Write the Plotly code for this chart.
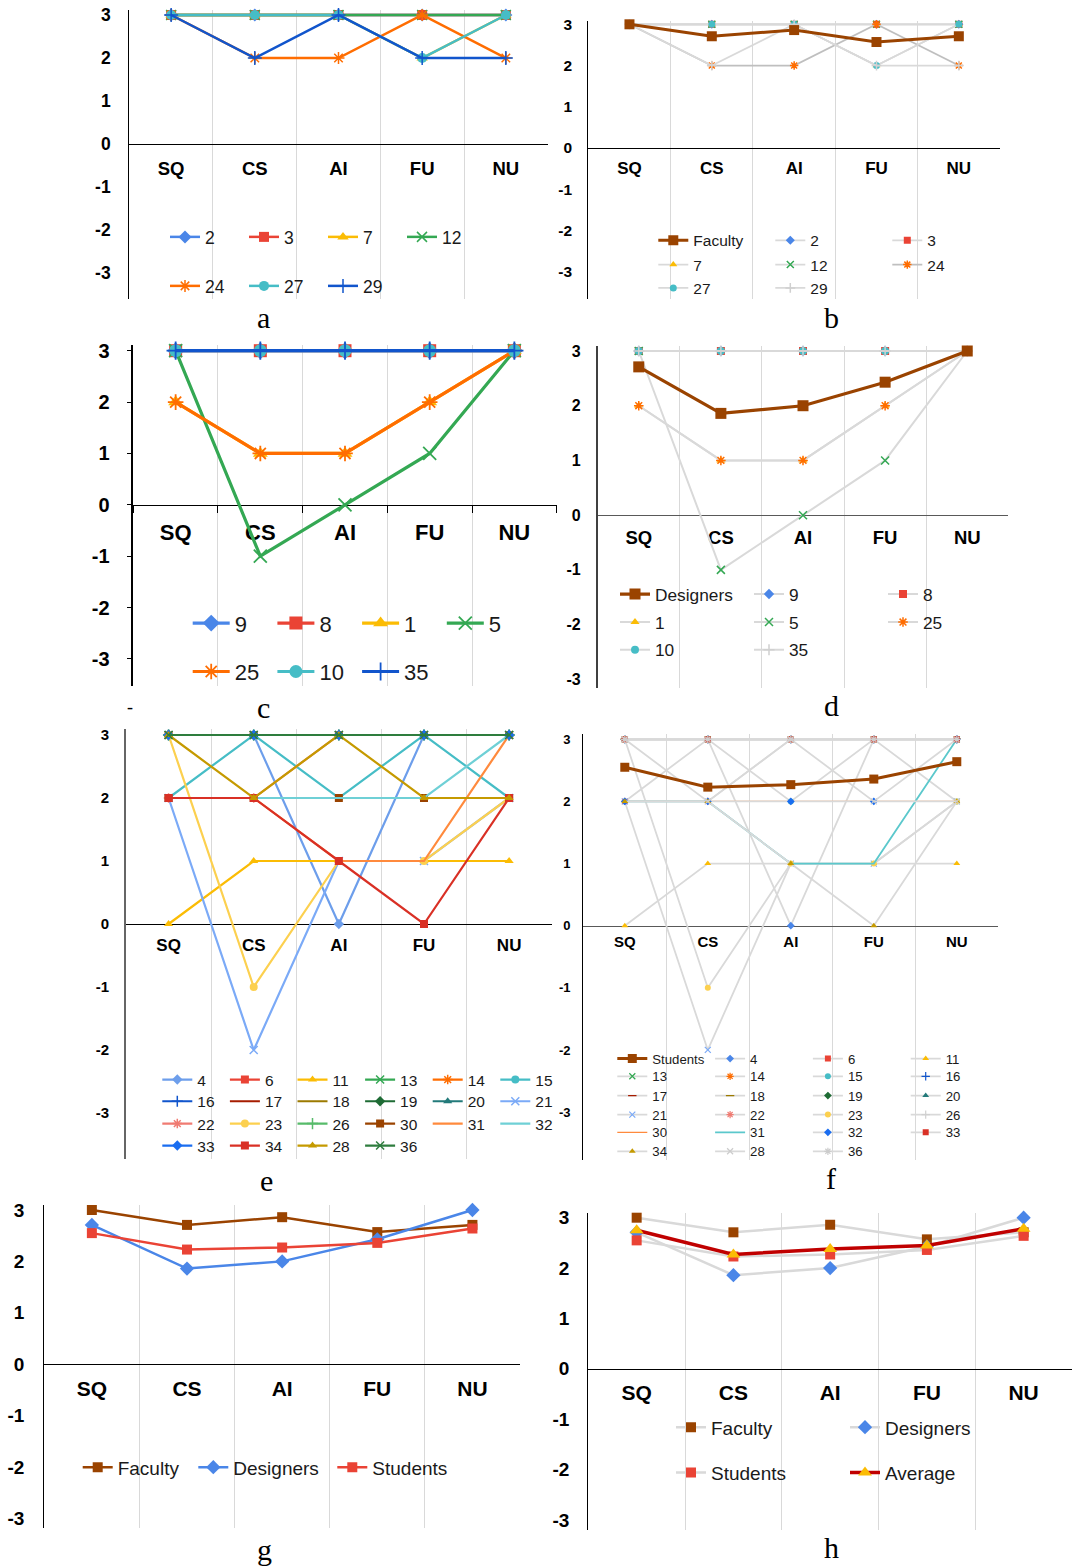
import plotly.graph_objects as go

W, H = 1078, 1568
OFF = 0                      # page body margin removed by post_script
FW, FH = W - OFF, H - OFF
SANS = "Liberation Sans, Arial, sans-serif"
SERIF = "Liberation Serif, Times New Roman, serif"

# ---------------- data ----------------
categories = ["SQ", "CS", "AI", "FU", "NU"]
y_ticks = [-3, -2, -1, 0, 1, 2, 3]

faculty_ids = ["2", "3", "7", "12", "24", "27", "29"]
faculty_scores = [
    [3, 3, 3, 3, 3],
    [3, 3, 3, 3, 3],
    [3, 3, 3, 2, 3],
    [3, 3, 3, 3, 3],
    [3, 2, 2, 3, 2],
    [3, 3, 3, 2, 3],
    [3, 2, 3, 2, 2],
]

designer_ids = ["9", "8", "1", "5", "25", "10", "35"]
designer_scores = [
    [3, 3, 3, 3, 3],
    [3, 3, 3, 3, 3],
    [2, 1, 1, 2, 3],
    [3, -1, 0, 1, 3],
    [2, 1, 1, 2, 3],
    [3, 3, 3, 3, 3],
    [3, 3, 3, 3, 3],
]

student_ids = ["4", "6", "11", "13", "14", "15", "16", "17", "18", "19", "20",
               "21", "22", "23", "26", "30", "31", "32", "33", "34", "28", "36"]
student_scores = [
    [3, 3, 0, 3, 3],
    [3, 3, 3, 3, 3],
    [0, 1, 1, 1, 1],
    [3, 3, 3, 3, 3],
    [3, 3, 3, 3, 3],
    [2, 3, 2, 3, 2],
    [3, 3, 3, 3, 3],
    [3, 3, 3, 3, 3],
    [3, 3, 3, 3, 3],
    [3, 3, 3, 3, 3],
    [3, 3, 3, 3, 3],
    [2, -2, 1, 1, 2],
    [2, 2, 3, 3, 3],
    [3, -1, 1, 1, 2],
    [3, 3, 3, 3, 3],
    [2, 2, 2, 2, 2],
    [2, 2, 1, 1, 3],
    [2, 2, 2, 2, 3],
    [3, 3, 3, 3, 3],
    [2, 2, 1, 0, 2],
    [3, 2, 3, 2, 2],
    [3, 3, 3, 3, 3],
]

faculty_mean = [3.00, 2.71, 2.86, 2.57, 2.71]
designer_mean = [2.71, 1.86, 2.00, 2.43, 3.00]
student_mean = [2.55, 2.23, 2.27, 2.36, 2.64]
overall_mean = [2.75, 2.27, 2.38, 2.45, 2.78]

group_names = ["Faculty", "Designers", "Students", "Average"]

# ---------------- styles ----------------
SYMBOLS = {
    "dia": ("diamond", False), "sq": ("square", False), "tri": ("triangle-up", False),
    "x": ("x-thin-open", True), "ast": ("asterisk-open", True), "cir": ("circle", False),
    "plus": ("cross-thin-open", True), "dash": ("line-ew-open", True),
}
GREY = "#d9d9d9"
BROWN = "#9a4300"

style_ac = [("#4a86e8", "dia"), ("#ea4335", "sq"), ("#fbbc04", "tri"), ("#34a853", "x"),
            ("#ff6d01", "ast"), ("#46bdc6", "cir"), ("#1155cc", "plus")]
style_bd = [("#4a86e8", "dia"), ("#ea4335", "sq"), ("#fbbc04", "tri"), ("#34a853", "x"),
            ("#ff6d01", "ast"), ("#46bdc6", "cir"), ("#d0d0d0", "plus")]
style_e = {
    "4": ("#6d9eeb", "dia"), "6": ("#ea4335", "sq"), "11": ("#fbbc04", "tri"), "13": ("#34a853", "x"),
    "14": ("#ff6d01", "ast"), "15": ("#46bdc6", "cir"), "16": ("#1155cc", "plus"), "17": ("#a61c00", None),
    "18": ("#9c7a00", None), "19": ("#1e6b34", "dia"), "20": ("#237a7a", "tri"), "21": ("#7baaf7", "x"),
    "22": ("#f07b72", "ast"), "23": ("#fcd04f", "cir"), "26": ("#57bb6a", "plus"), "30": ("#9a4300", "sq"),
    "31": ("#ff8a3d", None), "32": ("#6fd0d6", None), "33": ("#1a6df0", "dia"), "34": ("#d93025", "sq"),
    "28": ("#c59a00", "tri"), "36": ("#2e7d3e", "x"),
}
style_f = {
    "4": (GREY, "#4a86e8", "dia"), "6": (GREY, "#ea4335", "sq"), "11": (GREY, "#fbbc04", "tri"),
    "13": (GREY, "#34a853", "x"), "14": (GREY, "#ff6d01", "ast"), "15": (GREY, "#46bdc6", "cir"),
    "16": (GREY, "#1155cc", "plus"), "17": (GREY, "#a61c00", "dash"), "18": (GREY, "#9c7a00", "dash"),
    "19": (GREY, "#1e6b34", "dia"), "20": (GREY, "#237a7a", "tri"), "21": (GREY, "#7baaf7", "x"),
    "22": (GREY, "#f07b72", "ast"), "23": (GREY, "#fcd04f", "cir"), "26": (GREY, "#d0d0d0", "plus"),
    "30": ("#ff8a3d", None, None), "31": ("#5bc8cc", None, None), "32": (GREY, "#1a6df0", "dia"),
    "33": (GREY, "#d93025", "sq"), "34": (GREY, "#c59a00", "tri"), "28": (GREY, "#cccccc", "x"),
    "36": (GREY, "#cccccc", "ast"),
}

# panel geometry in page pixels: plot box, pixel of value 3, pixels per unit
geo = {
    "a": dict(l=129.3, r=547.7, t=10, b=299, p3=15.0, u=43.05, yf=17.5, cf=18.5, ys=14, xs=7,
              ac="#000", aw=1.3, zc="#000", ticks=False),
    "b": dict(l=588.3, r=1000, t=20.7, b=299, p3=24.3, u=41.23, yf=15.5, cf=17, ys=12, xs=4,
              ac="#000", aw=1.3, zc="#000", ticks=False),
    "c": dict(l=133.3, r=556.7, t=345, b=686, p3=350.7, u=51.38, yf=20, cf=22, ys=13, xs=8,
              ac="#000", aw=1.5, zc="#000", ticks=True),
    "d": dict(l=597.7, r=1008.3, t=346, b=688.3, p3=351, u=54.72, yf=16, cf=18.5, ys=12, xs=5,
              ac="#404040", aw=1.5, zc="#595959", ticks=False),
    "e": dict(l=126, r=551.7, t=729, b=1159.3, p3=735, u=63, yf=15, cf=17, ys=12, xs=5,
              ac="#666666", aw=2, zc="#000", ticks=False),
    "f": dict(l=583.3, r=998.3, t=734, b=1160, p3=739.3, u=62.13, yf=13, cf=15, ys=9, xs=2,
              ac="#000", aw=1.3, zc="#595959", ticks=False),
    "g": dict(l=44.3, r=520, t=1205, b=1528.3, p3=1210, u=51.38, yf=19, cf=21, ys=15, xs=6,
              ac="#000", aw=1.3, zc="#000", ticks=False),
    "h": dict(l=588.3, r=1072, t=1213.3, b=1530, p3=1217.7, u=50.38, yf=19, cf=21, ys=14, xs=5,
              ac="#000", aw=1.3, zc="#000", ticks=False),
}


def px_x(px):
    return (px - OFF) / FW


def px_y(py):
    return 1 - (py - OFF) / FH


fig = go.Figure()
layout = {}
axis_suffix = {}

for i, key in enumerate("abcdefgh"):
    g = geo[key]
    n = "" if i == 0 else str(i + 1)
    axis_suffix[key] = n
    ymin = 3 - (g["b"] - g["p3"]) / g["u"]
    ymax = 3 + (g["p3"] - g["t"]) / g["u"]
    y0, y1 = px_y(g["b"]), px_y(g["t"])
    zero = y0 + (0 - ymin) / (ymax - ymin) * (y1 - y0)
    layout["xaxis" + n] = dict(
        domain=[px_x(g["l"]), px_x(g["r"])], anchor="free", position=zero,
        type="category", categoryorder="array", categoryarray=categories,
        range=[-0.5, 4.5], tickson="boundaries", showgrid=True, gridcolor="#d9d9d9",
        gridwidth=1, showline=True, linecolor=g["zc"], linewidth=1.3, zeroline=False,
        ticks="outside" if g["ticks"] else "", ticklen=7, tickcolor="#000", tickwidth=1.3,
        tickfont=dict(family=SANS, size=g["cf"], color="#000", weight="bold"),
        ticklabelstandoff=g["xs"], ticklabeloverflow="allow",
        layer="below traces", fixedrange=True)
    layout["yaxis" + n] = dict(
        domain=[y0, y1], anchor="x" + n, range=[ymin, ymax],
        tickmode="array", tickvals=y_ticks, ticktext=[str(v) for v in y_ticks],
        showgrid=False, zeroline=False, showline=True, linecolor=g["ac"], linewidth=g["aw"],
        ticks="outside" if g["ticks"] else "", ticklen=5, tickcolor="#000", tickwidth=1.3,
        tickfont=dict(family=SANS, size=g["yf"], color="#000", weight="bold"),
        ticklabelstandoff=g["ys"], ticklabeloverflow="allow", fixedrange=True)

legend_count = [0]


def new_legend(x_line, y_row, font_size, entrywidth=None, itemwidth=30):
    legend_count[0] += 1
    k = legend_count[0]
    name = "legend" if k == 1 else "legend%d" % k
    d = dict(x=px_x(x_line - 5), y=px_y(y_row), xanchor="left", yanchor="middle",
             orientation="h", bgcolor="rgba(0,0,0,0)", borderwidth=0,
             font=dict(family=SANS, size=font_size, color="#1a1a1a"),
             itemwidth=itemwidth, tracegroupgap=0, itemclick=False, itemdoubleclick=False)
    if entrywidth:
        d.update(entrywidth=entrywidth, entrywidthmode="pixels")
    layout[name] = d
    return name


def legend_rows(names, ncol, x_line, y_rows, font_size, spacing, itemwidth=30):
    mapping = {}
    ew = spacing - (itemwidth + 15)
    for r, start in enumerate(range(0, len(names), ncol)):
        lg = new_legend(x_line, y_rows[r], font_size, ew, itemwidth)
        for nm in names[start:start + ncol]:
            mapping[nm] = lg
    return mapping


def add_series(key, y, name, line_color, width, marker_color, symbol, msize, legend,
               rank=1000, lwidth=None, mlw=1.5):
    n = axis_suffix[key]
    marker = None
    mode = "lines"
    if symbol:
        sym, is_open = SYMBOLS[symbol]
        mode = "lines+markers"
        marker = dict(size=msize, symbol=sym, color=marker_color,
                      line=dict(width=mlw if is_open else 0, color=marker_color))
    fig.add_trace(go.Scatter(
        x=categories, y=y, name=name, mode=mode,
        line=dict(color=line_color, width=width), marker=marker,
        xaxis="x" + n, yaxis="y" + n, legend=legend, legendrank=rank,
        legendwidth=lwidth, cliponaxis=False, hoverinfo="skip"))


# ---- panel a : faculty individuals ----
lg = legend_rows(faculty_ids, 4, 170, [237, 286], 17.5, 79)
for sid, sc, (c, s) in zip(faculty_ids, faculty_scores, style_ac):
    add_series("a", sc, sid, c, 2.5, c, s, 10, lg[sid])

# ---- panel b : faculty grey + mean ----
lg = legend_rows([group_names[0]] + faculty_ids, 3, 658.3, [240.7, 265, 288.3], 15.5, 117)
for sid, sc, (c, s) in zip(faculty_ids, faculty_scores, style_bd):
    lc = "#bfbfbf" if sid == "24" else GREY
    add_series("b", sc, sid, lc, 1.8, c, s, 7, lg[sid])
add_series("b", faculty_mean, group_names[0], BROWN, 3, BROWN, "sq", 10, lg[group_names[0]], rank=1)

# ---- panel c : designer individuals ----
lg = legend_rows(designer_ids, 4, 192.7, [623.3, 671.7], 22, 84.7, itemwidth=37)
for sid, sc, (c, s) in zip(designer_ids, designer_scores, style_ac):
    add_series("c", sc, sid, c, 3.2, c, s, 13, lg[sid], mlw=1.8)

# ---- panel d : designer grey + mean ----
lg = legend_rows([group_names[1]] + designer_ids, 3, 620, [594.3, 622.3, 650], 17.3, 134)
for sid, sc, (c, s) in zip(designer_ids, designer_scores, style_bd):
    add_series("d", sc, sid, GREY, 2, c, s, 8, lg[sid])
add_series("d", designer_mean, group_names[1], BROWN, 3.2, BROWN, "sq", 11, lg[group_names[1]], rank=1)

# ---- panel e : student individuals ----
lg = legend_rows(student_ids, 6, 162.3, [1080, 1101.7, 1124, 1146], 15.5, 67.6)
for sid, sc in zip(student_ids, student_scores):
    c, s = style_e[sid]
    add_series("e", sc, sid, c, 2.2, c, s, 8, lg[sid])

# ---- panel f : student grey + mean ----
lg = legend_rows([group_names[2]] + student_ids, 4, 617.3,
                 [1059, 1076.7, 1096, 1115, 1132.7, 1151.7], 13.2, 97.8)
for sid, sc in zip(student_ids, student_scores):
    lc, mc, s = style_f[sid]
    w = 1.8 if lc == GREY else (1.2 if sid == "30" else 1.8)
    add_series("f", sc, sid, lc, w, mc, s, 6, lg[sid], mlw=1.2)
add_series("f", student_mean, group_names[2], BROWN, 3, BROWN, "sq", 9, lg[group_names[2]], rank=1)

# ---- panel g : three group means ----
lg_g = new_legend(82.7, 1467.3, 19)
add_series("g", faculty_mean, group_names[0], BROWN, 2.5, BROWN, "sq", 10, lg_g, lwidth=70.6)
add_series("g", designer_mean, group_names[1], "#4a86e8", 2.5, "#4a86e8", "dia", 11, lg_g, lwidth=94)
add_series("g", student_mean, group_names[2], "#ea4335", 2.5, "#ea4335", "sq", 10, lg_g)

# ---- panel h : group means + overall average ----
lg = legend_rows(group_names, 2, 676, [1427.3, 1472.7], 19, 174)
add_series("h", faculty_mean, group_names[0], GREY, 2.5, BROWN, "sq", 10, lg[group_names[0]])
add_series("h", designer_mean, group_names[1], GREY, 2.5, "#4a86e8", "dia", 11, lg[group_names[1]])
add_series("h", student_mean, group_names[2], GREY, 2.5, "#ea4335", "sq", 10, lg[group_names[2]])
add_series("h", overall_mean, group_names[3], "#c00000", 3.5, "#fbbc04", "tri", 12, lg[group_names[3]])

# ---- panel letters ----
letters = [("a", 263, 318), ("b", 831, 318), ("c", 263, 707), ("d", 831, 705),
           ("e", 266, 1180), ("f", 831, 1178), ("g", 264, 1549), ("h", 831, 1547)]
annotations = []
for t, px, py in letters:
    annotations.append(dict(text=t, x=px_x(px), y=px_y(py), xref="paper", yref="paper",
                            showarrow=False, xanchor="center", yanchor="middle",
                            font=dict(family=SERIF, size=30, color="#000")))
annotations.append(dict(text="-", x=px_x(130), y=px_y(707), xref="paper", yref="paper",
                        showarrow=False, xanchor="center", yanchor="middle",
                        font=dict(family=SERIF, size=18, color="#000")))

fig.update_layout(
    width=FW, height=FH, margin=dict(l=0, r=0, t=0, b=0, autoexpand=False),
    paper_bgcolor="#ffffff", plot_bgcolor="rgba(0,0,0,0)",
    hovermode=False, annotations=annotations, **layout)

fig.write_html("out.html", config={"displayModeBar": False},
               post_script="document.body.style.margin='0px';")
